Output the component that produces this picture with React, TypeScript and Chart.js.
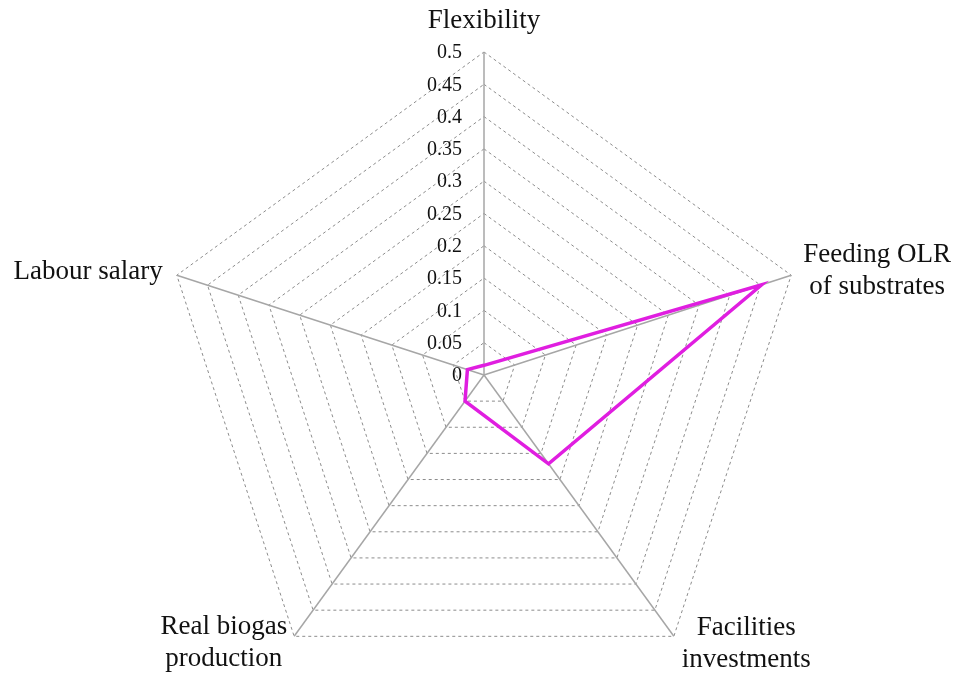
import React, { useEffect, useRef } from "react";
import { Chart, registerables } from "chart.js";

Chart.register(...registerables);

const categories: string[][] = [
  ["Flexibility"],
  ["Feeding OLR", "of substrates"],
  ["Facilities", "investments"],
  ["Real biogas", "production"],
  ["Labour salary"],
];
const seriesValues: number[] = [0.015, 0.452, 0.17, 0.05, 0.027];
const tickLabels: string[] = ["0", "0.05", "0.1", "0.15", "0.2", "0.25", "0.3", "0.35", "0.4", "0.45", "0.5"];
const tickValues: number[] = [0, 0.05, 0.1, 0.15, 0.2, 0.25, 0.3, 0.35, 0.4, 0.45, 0.5];

const SERIF = "'Liberation Serif', 'Times New Roman', serif";

const labelsPlugin = {
  id: "customLabels",
  afterDraw(chart: any) {
    const scale = chart.scales.r;
    const ctx = chart.ctx;
    ctx.save();
    ctx.fillStyle = "#111";
    // tick labels, right-aligned to the left of the vertical axis
    ctx.font = `20px ${SERIF}`;
    ctx.textAlign = "right";
    ctx.textBaseline = "middle";
    tickValues.forEach((v, i) => {
      const d = scale.getDistanceFromCenterForValue(v);
      ctx.fillText(tickLabels[i], scale.xCenter - 22, scale.yCenter - d + 1);
    });
    // point labels
    ctx.font = `27px ${SERIF}`;
    const lh = 32;
    const cfg = [
      { side: "center", gap: 0, dy: -31 },
      { side: "left", gap: 12, dy: -4 },
      { side: "left", gap: 8, dy: 8 },
      { side: "right", gap: 7, dy: 7 },
      { side: "right", gap: 14, dy: -3 },
    ];
    categories.forEach((lines, i) => {
      const p = scale.getPointPosition(i, scale.drawingArea);
      const c = cfg[i];
      const maxW = Math.max(...lines.map((l) => ctx.measureText(l).width));
      let cx = p.x;
      if (c.side === "left") cx = p.x + c.gap + maxW / 2;
      if (c.side === "right") cx = p.x - c.gap - maxW / 2;
      const cy = p.y + c.dy;
      ctx.textAlign = "center";
      ctx.textBaseline = "middle";
      lines.forEach((l, j) => {
        const y = cy + (j - (lines.length - 1) / 2) * lh;
        ctx.fillText(l, cx, y);
      });
    });
    ctx.restore();
  },
};

export default function App() {
  const ref = useRef<HTMLCanvasElement | null>(null);
  useEffect(() => {
    if (!ref.current) return;
    const chart = new Chart(ref.current, {
      type: "radar",
      data: {
        labels: categories.map((c) => c.join(" ")),
        datasets: [
          {
            data: seriesValues,
            borderColor: "#e01ee0",
            borderWidth: 3.5,
            fill: false,
            pointRadius: 0,
            pointHoverRadius: 0,
          },
        ],
      },
      options: {
        animation: false,
        responsive: true,
        maintainAspectRatio: false,
        plugins: { legend: { display: false }, tooltip: { enabled: false } },
        scales: {
          r: {
            min: 0,
            max: 0.5,
            ticks: { display: false, stepSize: 0.05 },
            pointLabels: { display: false },
            grid: { color: "#8c8c8c", lineWidth: 1 },
            border: { dash: [3, 3] } as any,
            angleLines: { color: "#a6a6a6", lineWidth: 1.5 },
            afterFit: (scale: any) => {
              scale.xCenter = 484;
              scale.yCenter = 375;
              scale.drawingArea = 323;
            },
          } as any,
        },
      },
      plugins: [labelsPlugin],
    });
    return () => chart.destroy();
  }, []);
  return (
    <div style={{ position: "fixed", left: 0, top: 0, width: 958, height: 677, background: "#fff" }}>
      <canvas ref={ref} />
    </div>
  );
}
